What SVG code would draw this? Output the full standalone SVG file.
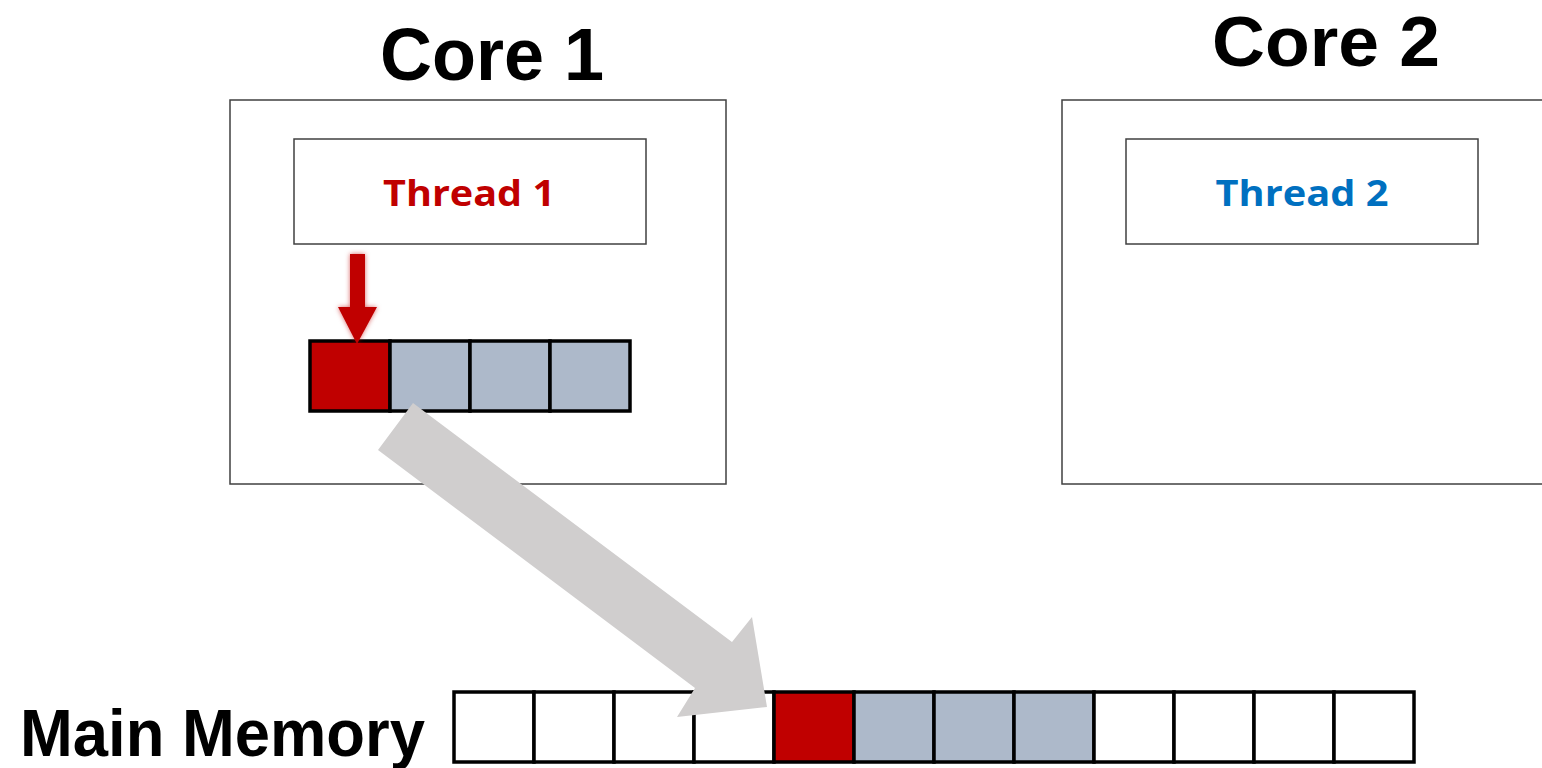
<svg xmlns="http://www.w3.org/2000/svg" width="1542" height="768" viewBox="0 0 1542 768">
<style>
.box{fill:#fff;stroke:#404040;stroke-width:1.5}
.cell{stroke:#000;stroke-width:3.5}
.red{fill:#C00000}
.gray{fill:#ADB9CA}
.white{fill:#fff}
.title{font-family:"Liberation Sans",Arial,sans-serif;font-weight:700;fill:#000}
.thread{font-family:"Open Sans","Noto Sans",sans-serif;font-weight:700;font-size:36px}
</style>
<defs>
<filter id="glow" x="-50%" y="-50%" width="200%" height="200%">
<feGaussianBlur in="SourceAlpha" stdDeviation="2.5" result="b"/>
<feFlood flood-color="#C00000" flood-opacity="0.6"/>
<feComposite in2="b" operator="in" result="g"/>
<feMerge><feMergeNode in="g"/><feMergeNode in="SourceGraphic"/></feMerge>
</filter>
</defs>
<rect width="1542" height="768" fill="#fff"/>

<g id="core1">
<text class="title" x="492" y="80" font-size="75" text-anchor="middle" textLength="224" lengthAdjust="spacingAndGlyphs">Core 1</text>
<rect class="box" x="230" y="100" width="496" height="384"/>
</g>
<g id="thread1">
<rect class="box" x="294" y="139" width="352" height="105"/>
<text class="thread" x="469" y="206" fill="#C00000" text-anchor="middle" textLength="172" lengthAdjust="spacingAndGlyphs">Thread 1</text>
</g>
<g id="cache-line">
<rect class="cell red" x="310" y="341" width="80" height="70"/>
<rect class="cell gray" x="390" y="341" width="80" height="70"/>
<rect class="cell gray" x="470" y="341" width="80" height="70"/>
<rect class="cell gray" x="550" y="341" width="80" height="70"/>
</g>

<g id="core2">
<text class="title" x="1326" y="66" font-size="71" text-anchor="middle" textLength="228" lengthAdjust="spacingAndGlyphs">Core 2</text>
<rect class="box" x="1062" y="100" width="490" height="384"/>
</g>
<g id="thread2">
<rect class="box" x="1126" y="139" width="352" height="105"/>
<text class="thread" x="1302" y="206" fill="#0070C0" text-anchor="middle" textLength="173" lengthAdjust="spacingAndGlyphs">Thread 2</text>
</g>

<g id="main-memory">
<text class="title" x="20" y="756" font-size="66" textLength="405" lengthAdjust="spacingAndGlyphs">Main Memory</text>
<rect class="cell white" x="454" y="692" width="80" height="70"/>
<rect class="cell white" x="534" y="692" width="80" height="70"/>
<rect class="cell white" x="614" y="692" width="80" height="70"/>
<rect class="cell white" x="694" y="692" width="80" height="70"/>
<rect class="cell red" x="774" y="692" width="80" height="70"/>
<rect class="cell gray" x="854" y="692" width="80" height="70"/>
<rect class="cell gray" x="934" y="692" width="80" height="70"/>
<rect class="cell gray" x="1014" y="692" width="80" height="70"/>
<rect class="cell white" x="1094" y="692" width="80" height="70"/>
<rect class="cell white" x="1174" y="692" width="80" height="70"/>
<rect class="cell white" x="1254" y="692" width="80" height="70"/>
<rect class="cell white" x="1334" y="692" width="80" height="70"/>
</g>

<g id="connectors">
<polygon points="350,254 365,254 365,307 377,307 357,344 338,307 350,307" fill="#C00000" filter="url(#glow)"/>
<polygon points="413,403 732,642 752,617 767,707 677,717 695,688 378,450" fill="#D0CECE"/>
</g>
</svg>
